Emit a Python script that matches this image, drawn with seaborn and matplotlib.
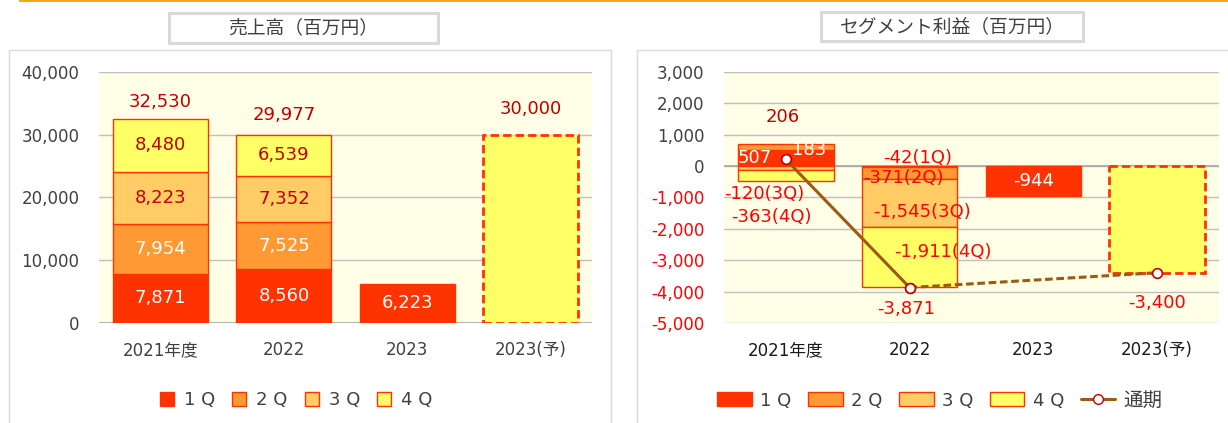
import numpy as np
import pandas as pd
import seaborn as sns
import matplotlib.pyplot as plt
from matplotlib.patches import Patch, Rectangle
from matplotlib.lines import Line2D

categories = ['2021年度', '2022', '2023', '2023(予)']
years = ['2021年度', '2022', '2023']
quarter_names = ['1 Q', '2 Q', '3 Q', '4 Q']

# 売上高（百万円）
sales_q1 = [7871, 8560, 6223]
sales_q2 = [7954, 7525, np.nan]
sales_q3 = [8223, 7352, np.nan]
sales_q4 = [8480, 6539, np.nan]
sales_total = [32530, 29977]
sales_forecast = 30000

# セグメント利益（百万円）
profit_q1 = [507, -42, -944]
profit_q2 = [183, -371, np.nan]
profit_q3 = [-120, -1545, np.nan]
profit_q4 = [-363, -1911, np.nan]
profit_total_years = ['2021年度', '2022', '2023(予)']
profit_total = [206, -3871, -3400]
profit_forecast = -3400

face_colors = ['#FF3300', '#FF9933', '#FFCC66', '#FFFF66']
edge_colors = ['#FF3300', '#FF3300', '#FF3300', '#FF3300']
RED = '#FF0000'
DARKRED = '#C00000'
BROWN = '#9C5A14'
GRID = '#C0C0C0'
TXT = '#404040'
BAR_W = 0.77

sns.set_theme(style='white')
plt.rcParams['font.family'] = ['DejaVu Sans', 'Noto Sans CJK JP']

W, H = 1228, 423
fig = plt.figure(figsize=(W / 100, H / 100), dpi=100)
fig.patch.set_facecolor('white')


def px_box(x0, y0, x1, y1, **kw):
    # rectangle given in image pixels (top-left origin)
    r = Rectangle((x0 / W, 1 - y1 / H), (x1 - x0) / W, (y1 - y0) / H,
                  transform=fig.transFigure, **kw)
    fig.add_artist(r)
    return r


def stacked(ax, series):
    pos_base = np.zeros(len(years))
    neg_base = np.zeros(len(years))
    segs = []
    for vals, fc, ec in zip(series, face_colors, edge_colors):
        vals = np.array(vals, dtype=float)
        ok = ~np.isnan(vals)
        base = np.where(vals >= 0, pos_base, neg_base)
        df = pd.DataFrame({'year': np.array(years)[ok], 'value': vals[ok]})
        sns.barplot(data=df, x='year', y='value', order=categories,
                    bottom=base[ok], color=fc, edgecolor=ec, linewidth=1,
                    width=BAR_W, saturation=1, errorbar=None, ax=ax)
        segs.append((base.copy(), vals))
        pos_base = np.where(ok & (vals >= 0), pos_base + np.nan_to_num(vals), pos_base)
        neg_base = np.where(ok & (vals < 0), neg_base + np.nan_to_num(vals), neg_base)
    return segs


def forecast_bar(ax, value):
    df = pd.DataFrame({'year': ['2023(予)'], 'value': [value]})
    sns.barplot(data=df, x='year', y='value', order=categories,
                color='#FFFF66', edgecolor='#FF3300', linewidth=2,
                linestyle=(0, (3, 1.5)), width=BAR_W, saturation=1,
                errorbar=None, ax=ax)


def style_axis(ax, ylim, ticks):
    ax.set_facecolor('#FFFEE6')
    ax.set_xlim(-0.5, 3.5)
    ax.set_ylim(*ylim)
    ax.set_yticks(ticks)
    ax.set_yticklabels([f'{t:,}' for t in ticks])
    ax.set_xlabel('')
    ax.set_ylabel('')
    for s in ax.spines.values():
        s.set_visible(False)
    ax.yaxis.grid(True, color=GRID, lw=1)
    ax.xaxis.grid(False)
    ax.set_axisbelow(True)
    ax.tick_params(length=0, labelsize=12, labelcolor=TXT)
    ax.tick_params(axis='y', pad=14)
    ax.tick_params(axis='x', pad=13)
    ax.axhline(0, color='#A6A6A6', lw=1.2, zorder=0.6)


def label(ax, x, y, s, color, dx=0, dy=0, size=13):
    ax.annotate(s, (x, y), xytext=(dx, dy), textcoords='offset pixels',
                ha='center', va='center', fontsize=size, color=color, zorder=5)


# ---------------- left: 売上高 ----------------
ax1 = fig.add_axes([99 / W, 1 - 323 / H, 493 / W, 251.3 / H])
segs = stacked(ax1, [sales_q1, sales_q2, sales_q3, sales_q4])
forecast_bar(ax1, sales_forecast)
style_axis(ax1, (0, 40000), list(range(0, 40001, 10000)))

seg_colors = ['white', 'white', DARKRED, DARKRED]
for qi, (base, vals) in enumerate(segs):
    for i, v in enumerate(vals):
        if not np.isnan(v):
            label(ax1, i, base[i] + v / 2, f'{v:,.0f}', seg_colors[qi])

total_offsets = [17, 20]
for i, (t, off) in enumerate(zip(sales_total, total_offsets)):
    label(ax1, i, t, f'{t:,}', DARKRED, dy=off)
label(ax1, categories.index('2023(予)'), sales_forecast, f'{sales_forecast:,}', DARKRED, dy=26)

# ---------------- right: セグメント利益 ----------------
ax2 = fig.add_axes([724 / W, 1 - 323 / H, 495 / W, 251.3 / H])
segs = stacked(ax2, [profit_q1, profit_q2, profit_q3, profit_q4])
forecast_bar(ax2, profit_forecast)
style_axis(ax2, (-5000, 3000), list(range(-5000, 3001, 1000)))
for lbl, t in zip(ax2.get_yticklabels(), range(-5000, 3001, 1000)):
    if t < 0:
        lbl.set_color(RED)
for lbl in ax2.get_xticklabels():
    lbl.set_color('#1A1A1A')

# per segment label placement: (dx, dy, color, show quarter)
seg_style = {
    (0, 0): (-31, 0, 'white', False),
    (0, 1): (23, -3, 'white', False),
    (0, 2): (-22, -26, RED, True),
    (0, 3): (-14, -42, RED, True),
    (1, 0): (8, 9, RED, True),
    (1, 1): (-6, -5, RED, True),
    (1, 2): (12, -9, RED, True),
    (1, 3): (33, 5, RED, True),
    (2, 0): (0, 0, 'white', False),
}
for qi, (base, vals) in enumerate(segs):
    for i, v in enumerate(vals):
        if np.isnan(v):
            continue
        dx, dy, c, q = seg_style[(i, qi)]
        s = f'{v:,.0f}' + (f'({qi + 1}Q)' if q else '')
        label(ax2, i, base[i] + v / 2, s, c, dx=dx, dy=dy)

tot_x = [categories.index(c) for c in profit_total_years]
marker_kw = dict(color=BROWN, lw=2.2, marker='o', markersize=7,
                 markerfacecolor='white', markeredgecolor=DARKRED,
                 markeredgewidth=1.2, legend=False, ax=ax2, zorder=4)
sns.lineplot(x=tot_x[:2], y=profit_total[:2], **marker_kw)
sns.lineplot(x=tot_x[1:], y=profit_total[1:], linestyle=(0, (2.5, 1.2)), **marker_kw)
ax2.set_xlim(-0.5, 3.5)
ax2.set_xlabel('')
ax2.set_ylabel('')

tot_style = [(-3, 42, DARKRED), (-4, -21, RED), (0, -30, RED)]
for x, t, (dx, dy, c) in zip(tot_x, profit_total, tot_style):
    label(ax2, x, t, f'{t:,}', c, dx=dx, dy=dy)

# ---------------- legends ----------------
left_handles = [Patch(facecolor=fc, edgecolor=ec, lw=1) for fc, ec in zip(face_colors, edge_colors)]
fig.legend(left_handles, quarter_names, loc='center', bbox_to_anchor=(296 / W, 1 - 400 / H),
           ncol=4, frameon=False, fontsize=13, labelcolor=TXT,
           handlelength=0.78, handleheight=0.78, handletextpad=0.55, columnspacing=0.95)

right_handles = left_handles + [Line2D([], [], color=BROWN, lw=2.2, marker='o', markersize=7,
                                       markerfacecolor='white', markeredgecolor=DARKRED)]
leg = fig.legend(right_handles, quarter_names + ['通期'], loc='center',
                 bbox_to_anchor=(940 / W, 1 - 400 / H),
                 ncol=5, frameon=False, fontsize=13, labelcolor=TXT,
                 handlelength=1.9, handleheight=0.78, handletextpad=0.45, columnspacing=0.95)
leg.get_texts()[-1].set_fontsize(14)

# ---------------- frames and titles ----------------
px_box(19, 0, W, 2.5, facecolor='#F8A51E', edgecolor='none')
px_box(9, 50, 611, H + 60, fill=False, edgecolor='#D9D9D9', lw=1)
px_box(637, 50, W + 60, H + 60, fill=False, edgecolor='#D9D9D9', lw=1)
px_box(169, 13, 438, 43, facecolor='white', edgecolor='#D9D9D9', lw=2.2)
px_box(821, 12, 1083, 41, facecolor='white', edgecolor='#D9D9D9', lw=2.2)
fig.text(303.5 / W, 1 - 28 / H, '売上高（百万円）', ha='center', va='center',
         fontsize=13.5, color=TXT)
fig.text(952 / W, 1 - 26.5 / H, 'セグメント利益（百万円）', ha='center', va='center',
         fontsize=13.5, color=TXT)

fig.savefig('out.png', dpi=100, facecolor='white')
